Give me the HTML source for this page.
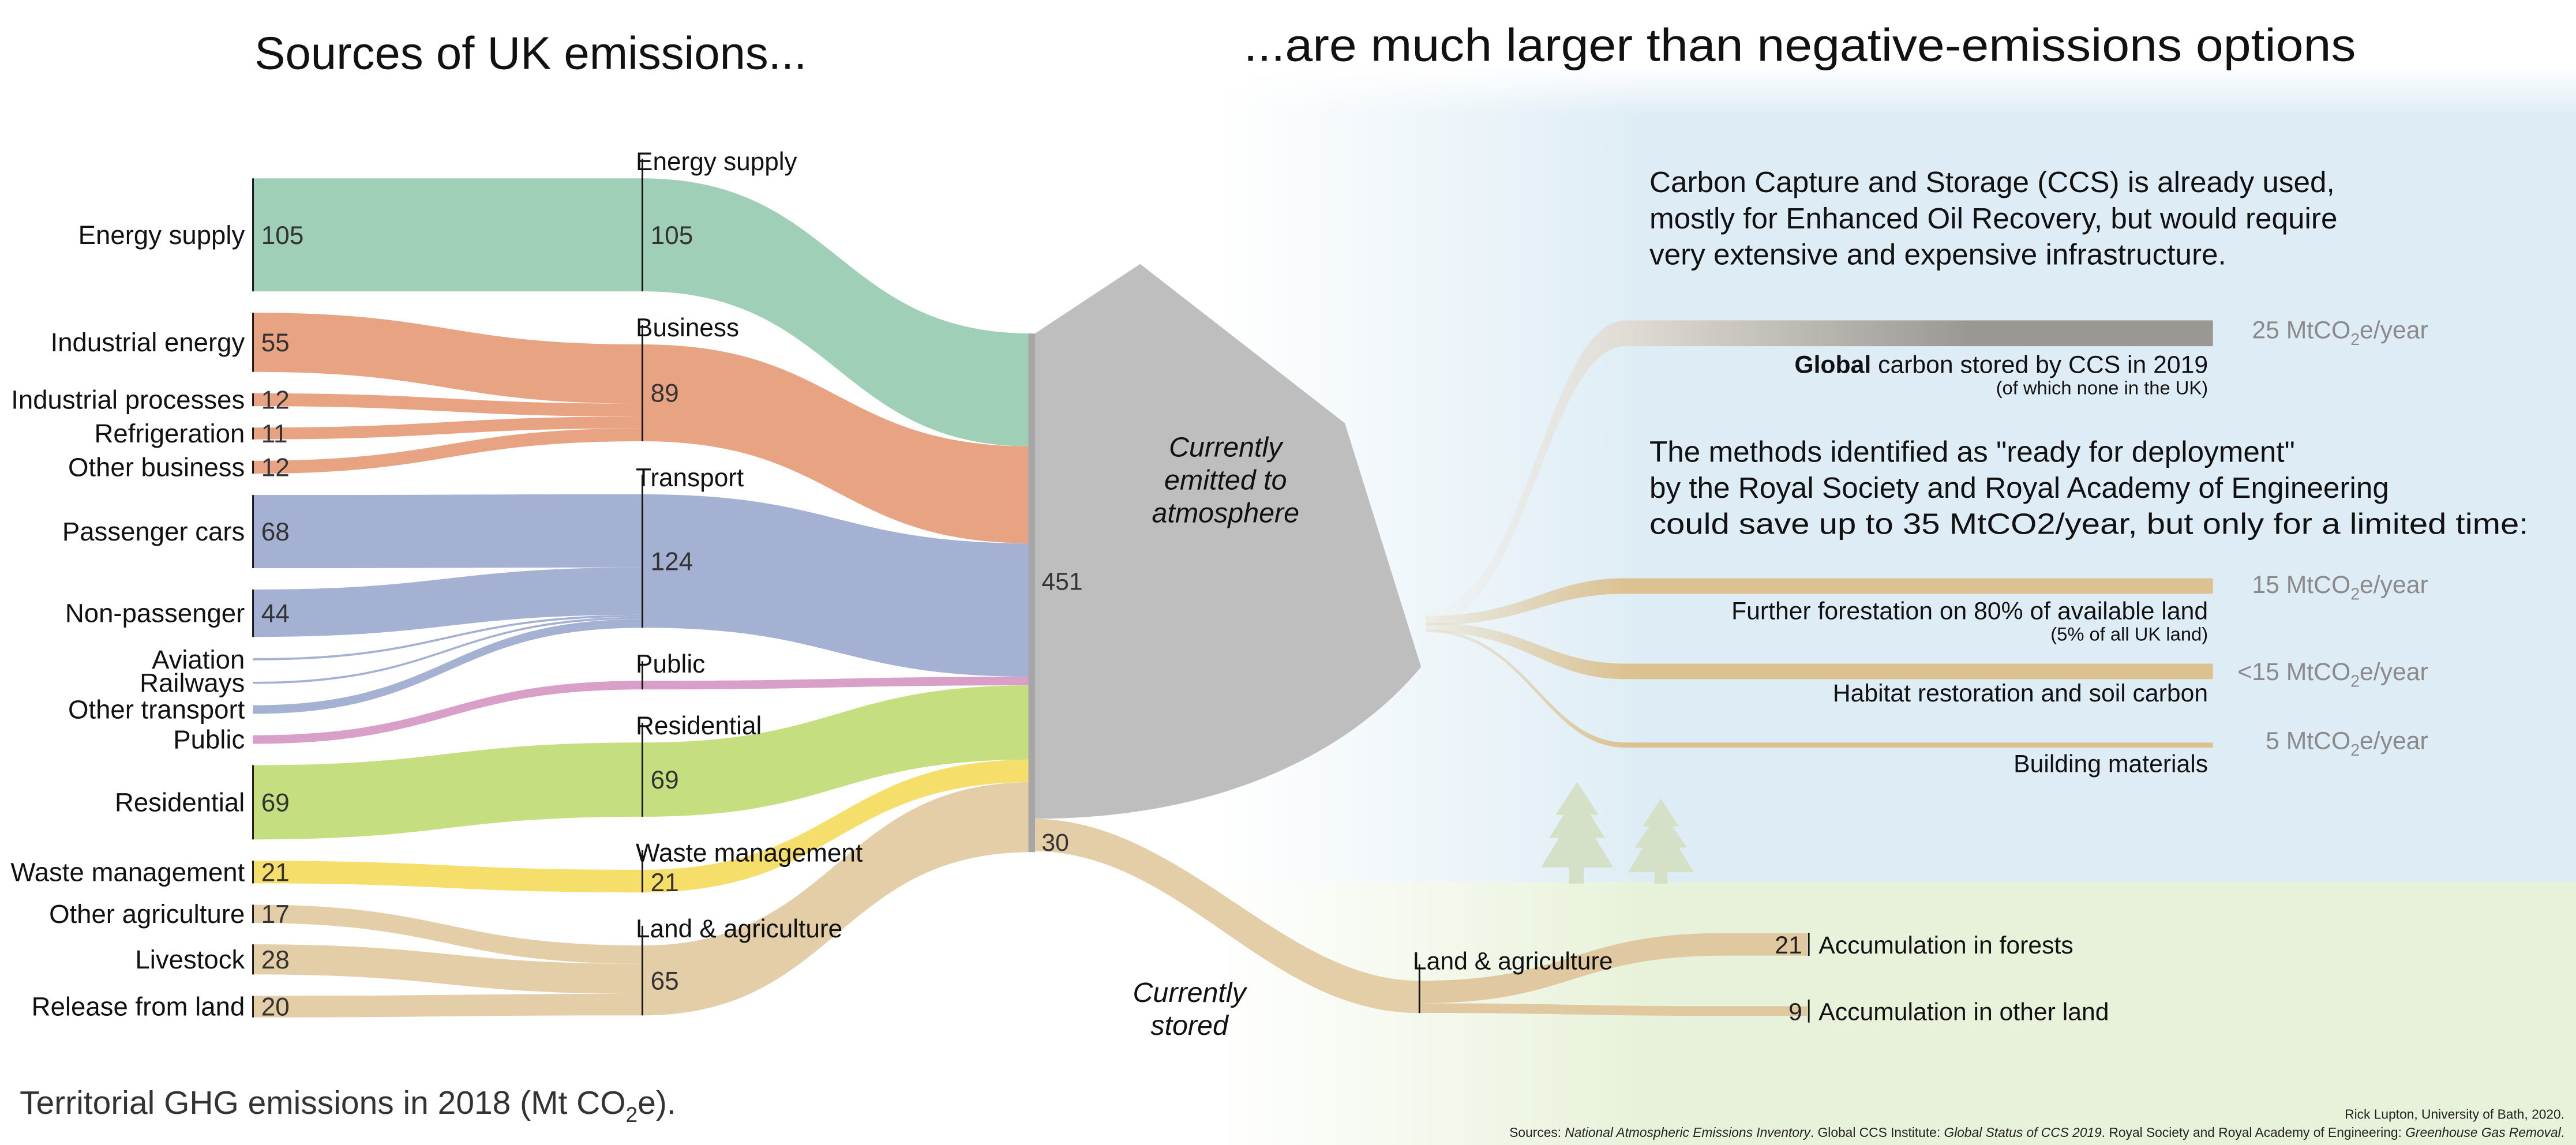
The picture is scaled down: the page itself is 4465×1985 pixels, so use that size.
<!DOCTYPE html>
<html><head><meta charset="utf-8"><style>
html,body{margin:0;padding:0;background:#fff;}
svg{display:block;font-family:"Liberation Sans",sans-serif;}
</style></head><body>
<svg id="chart" width="4465" height="1985" viewBox="0 0 1568 697" preserveAspectRatio="none" xmlns="http://www.w3.org/2000/svg">
<defs>
<linearGradient id="blueG" x1="740" x2="1000" y1="0" y2="0" gradientUnits="userSpaceOnUse"><stop offset="0" stop-color="#deedf5" stop-opacity="0"/><stop offset="1" stop-color="#deedf5"/></linearGradient>
<linearGradient id="greenG" x1="740" x2="1000" y1="0" y2="0" gradientUnits="userSpaceOnUse"><stop offset="0" stop-color="#e8f2da" stop-opacity="0"/><stop offset="1" stop-color="#e8f2da"/></linearGradient>
<linearGradient id="topFade" x1="0" x2="0" y1="0" y2="1"><stop offset="0" stop-color="#fff"/><stop offset="1" stop-color="#fff" stop-opacity="0"/></linearGradient>
<linearGradient id="ccsG" x1="870" x2="1200" y1="0" y2="0" gradientUnits="userSpaceOnUse"><stop offset="0" stop-color="#f0ece6" stop-opacity="0.2"/><stop offset="0.35" stop-color="#e2ddd5"/><stop offset="1" stop-color="#999893"/></linearGradient>
<linearGradient id="tanG" x1="868" x2="990" y1="0" y2="0" gradientUnits="userSpaceOnUse"><stop offset="0" stop-color="#dcc291" stop-opacity="0.15"/><stop offset="1" stop-color="#dcc291"/></linearGradient>
</defs>
<rect x="740" y="40" width="828" height="497" fill="url(#blueG)"/>
<rect x="740" y="537" width="828" height="160" fill="url(#greenG)"/>
<rect x="740" y="40" width="828" height="30" fill="url(#topFade)"/>
<g id="flows"></g>
<g id="nodes"></g>
<g id="labels" font-size="15" fill="#111"></g>
<text x="323" y="42" font-size="28" text-anchor="middle" fill="#111">Sources of UK emissions...</text>
<text x="757" y="37" font-size="28" fill="#111" textLength="677" lengthAdjust="spacingAndGlyphs">...are much larger than negative-emissions options</text>
<g font-size="18" fill="#111">
<text x="1004" y="117">Carbon Capture and Storage (CCS) is already used,</text>
<text x="1004" y="139">mostly for Enhanced Oil Recovery, but would require</text>
<text x="1004" y="161">very extensive and expensive infrastructure.</text>
</g>
<g font-size="18" fill="#111">
<text x="1004" y="281">The methods identified as "ready for deployment"</text>
<text x="1004" y="303">by the Royal Society and Royal Academy of Engineering</text>
<text x="1004" y="325" textLength="535" lengthAdjust="spacingAndGlyphs">could save up to 35 MtCO2/year, but only for a limited time:</text>
</g>
<g fill="#d5e1c6">
<polygon points="960,476 947,496 952,496 943,510 949,510 938,528 982,528 971,510 977,510 968,496 973,496"/>
<rect x="955" y="526" width="9" height="12"/>
<polygon points="1011,486 1000,503 1004,503 995,516 1000,516 991,531 1031,531 1022,516 1027,516 1018,503 1022,503"/>
<rect x="1007" y="529" width="8" height="9"/>
</g>
<g font-size="15" fill="#111" text-anchor="end">
<text x="1344" y="227"><tspan font-weight="bold">Global</tspan> carbon stored by CCS in 2019</text>
<text x="1344" y="240" font-size="11.5">(of which none in the UK)</text>
<text x="1344" y="377">Further forestation on 80% of available land</text>
<text x="1344" y="390" font-size="11.5">(5% of all UK land)</text>
<text x="1344" y="427">Habitat restoration and soil carbon</text>
<text x="1344" y="470">Building materials</text>
</g>
<g font-size="15" fill="#8a8a8a" text-anchor="end">
<text x="1478" y="206">25 MtCO<tspan font-size="10" dy="4">2</tspan><tspan dy="-4">e/year</tspan></text>
<text x="1478" y="361">15 MtCO<tspan font-size="10" dy="4">2</tspan><tspan dy="-4">e/year</tspan></text>
<text x="1478" y="414">&lt;15 MtCO<tspan font-size="10" dy="4">2</tspan><tspan dy="-4">e/year</tspan></text>
<text x="1478" y="456">5 MtCO<tspan font-size="10" dy="4">2</tspan><tspan dy="-4">e/year</tspan></text>
</g>
<g font-size="17" font-style="italic" text-anchor="middle" fill="#111">
<text x="746" y="278">Currently</text><text x="746" y="298">emitted to</text><text x="746" y="318">atmosphere</text>
</g>
<g font-size="17" font-style="italic" text-anchor="middle" fill="#111">
<text x="724" y="610">Currently</text><text x="724" y="630">stored</text>
</g>
<text x="12" y="678" font-size="20" fill="#333">Territorial GHG emissions in 2018 (Mt CO<tspan font-size="13" dy="5">2</tspan><tspan dy="-5">e).</tspan></text>
<text x="1561" y="681" font-size="8" text-anchor="end" fill="#222">Rick Lupton, University of Bath, 2020.</text>
<text x="1561" y="692" font-size="8" text-anchor="end" fill="#222">Sources: <tspan font-style="italic">National Atmospheric Emissions Inventory</tspan>. Global CCS Institute: <tspan font-style="italic">Global Status of CCS 2019</tspan>. Royal Society and Royal Academy of Engineering: <tspan font-style="italic">Greenhouse Gas Removal</tspan>.</text>
</svg>
<script>
// ---- data ----
const leftNames = ["Energy supply","Industrial energy","Industrial processes","Refrigeration","Other business","Passenger cars","Non-passenger","Aviation","Railways","Other transport","Public","Residential","Waste management","Other agriculture","Livestock","Release from land"];
const leftValues = [105,55,12,11,12,68,44,2,2,8,8,69,21,17,28,20];
const leftGroup = [0,1,1,1,1,2,2,2,2,2,3,4,5,6,6,6];
const leftShowValue = [true,true,true,true,true,true,true,false,false,false,false,true,true,true,true,true];
const midNames = ["Energy supply","Business","Transport","Public","Residential","Waste management","Land & agriculture"];
const midLabels = [105,89,124,8,69,21,65];
const midColors = ["#9fcfb7","#e8a383","#a5b1d3","#d8a0c9","#c5df80","#f5df6a","#e3cea8"];
const totalEmitted = [451];
const storedValue = [30];
const storedNames = ["Accumulation in forests","Accumulation in other land"];
const storedValues = [21,9];
const removalNames = ["ccs","forestation","habitat","building"];
const removalValues = [25,15,15,5];

// ---- layout (scales) ----
const S = 0.655;
const yTop = 108.6, leftGap = 13, midGap = 32.3, rightTop = 203;
const xL = 154, xM = 391, xR = 628;
const NS = "http://www.w3.org/2000/svg";
const gF = document.getElementById('flows'), gN = document.getElementById('nodes'), gT = document.getElementById('labels');
function mk(tag, attrs, parent){ const e=document.createElementNS(NS,tag); for(const k in attrs) e.setAttribute(k,attrs[k]); parent.appendChild(e); return e; }
function band(x0,y0a,y0b,x1,y1a,y1b){ const m=(x0+x1)/2; return `M${x0},${y0a} C${m},${y0a} ${m},${y1a} ${x1},${y1a} L${x1},${y1b} C${m},${y1b} ${m},${y0b} ${x0},${y0b} Z`; }

const lTop=[]; let y=yTop;
leftValues.forEach((v,i)=>{ lTop.push(y); y+=v*S+leftGap; });
const midVals = midNames.map((_,g)=>leftValues.reduce((a,v,i)=>a+(leftGroup[i]===g?v:0),0));
const mTop=[]; y=yTop;
midVals.forEach(v=>{ mTop.push(y); y+=v*S+midGap; });
const rTop=[]; y=rightTop;
midVals.forEach(v=>{ rTop.push(y); y+=v*S; });
const rightBottom = y;

const mOff = midVals.map(()=>0);
leftValues.forEach((v,i)=>{
  const g=leftGroup[i], h=v*S, ya=lTop[i], yb=ya+h, ma=mTop[g]+mOff[g];
  mOff[g]+=h;
  const p=mk('path',{d:band(xL,ya,yb,xM,ma,ma+h),fill:midColors[g]},gF);
  
  
});
midVals.forEach((v,g)=>{
  const h=v*S;
  const p=mk('path',{d:band(xM,mTop[g],mTop[g]+h,xR,rTop[g],rTop[g]+h),fill:midColors[g]},gF);
  
  
});
const emitBottom = rightTop + totalEmitted[0]*S;
const shape = mk('path',{d:`M${xR+2},${rightTop} L694,160.7 L818.6,257.6 L865,406 C820,460 740,${emitBottom} ${xR+2},${emitBottom} Z`,fill:'#bebebf'},gF);


const sH = storedValue[0]*S, xS=864, sTop=597;
const sp = mk('path',{d:`M${xR},${emitBottom} C720,${emitBottom} 780,${sTop} ${xS},${sTop} L${xS},${sTop+sH} C770,${sTop+sH} 720,${emitBottom+sH} ${xR},${emitBottom+sH} Z`,fill:'#e3cea8'},gF);


const stTargets=[568,612.5]; let so=sTop;
storedValues.forEach((v,i)=>{
  const h=v*S;
  const p=mk('path',{d:band(xS,so,so+h,1050,stTargets[i],stTargets[i]+h)+` M1050,${stTargets[i]} L1100,${stTargets[i]} L1100,${stTargets[i]+h} L1050,${stTargets[i]+h} Z`,fill:'#e0c9a0'},gF);
  
  
  const t=mk('text',{x:1097,y:stTargets[i]+h/2+5.5,'text-anchor':'end','font-size':15,fill:'#222'},gT); t.textContent=v;
  
  
  const l=mk('line',{x1:1101,x2:1101,y1:stTargets[i]+h/2-7,y2:stTargets[i]+h/2+7,stroke:'#111','stroke-width':1},gN);
  
  
  const n=mk('text',{x:1107,y:stTargets[i]+h/2+5.5,'font-size':15,fill:'#111'},gT); n.textContent=storedNames[i];
  
  
  so+=h;
});
const sl=mk('line',{x1:xS,x2:xS,y1:sTop-10,y2:sTop+sH,stroke:'#111','stroke-width':1},gN);


const slt=mk('text',{x:860,y:590,'font-size':15,fill:'#111'},gT); slt.textContent='Land & agriculture';



const remY=[195,352,404,452]; const remStart=[[867,372],[868,375],[868,379],[868,383]];
removalValues.forEach((v,i)=>{
  const h=v*S*0.96, [sx,sy]=remStart[i], ex=990, endX=1347;
  const ty=remY[i];
  const d=`M${sx},${sy} C930,${sy} ${ex-50},${ty} ${ex},${ty} L${endX},${ty} L${endX},${ty+h} L${ex},${ty+h} C${ex-50},${ty+h} 930,${sy+h*0.6} ${sx},${sy+h*0.6} Z`;
  const p=mk('path',{d:d,fill:i===0?'url(#ccsG)':'url(#tanG)'},gF);
  
  
});

const rb=mk('rect',{x:xR-2,y:rightTop,width:4,height:rightBottom-rightTop,fill:'#a6a6a6'},gN);


const t451=mk('text',{x:634,y:359,'font-size':15,fill:'#333'},gT); t451.textContent=totalEmitted[0];


const t30=mk('text',{x:634,y:518,'font-size':15,fill:'#333'},gT); t30.textContent=storedValue[0];



leftValues.forEach((v,i)=>{
  const h=Math.max(v*S,1.5), yc=lTop[i]+h/2;
  if(leftShowValue[i]){
    const l=mk('line',{x1:xL,x2:xL,y1:lTop[i],y2:lTop[i]+h,stroke:'#111','stroke-width':1},gN);
    
    
    const vt=mk('text',{x:159,y:yc+5.5,fill:'#333','font-size':15.5},gT); vt.textContent=v;
    
    
  }
  const nt=mk('text',{x:149,y:yc+5.5,'text-anchor':'end','font-size':16},gT); nt.textContent=leftNames[i];
  
  
});
midVals.forEach((v,g)=>{
  const h=v*S;
  const l=mk('line',{x1:xM,x2:xM,y1:mTop[g]-12,y2:mTop[g]+h,stroke:'#111','stroke-width':1},gN);
  
  
  const nt=mk('text',{x:387,y:mTop[g]-5,'font-size':15.5},gT); nt.textContent=midNames[g];
  
  
  if(v>10){
    const vt=mk('text',{x:396,y:Math.max(mTop[g]+h/2+5.5,mTop[g]+13),fill:'#333','font-size':15.5},gT); vt.textContent=midLabels[g];
    
    
  }
});
</script>
</body></html>
